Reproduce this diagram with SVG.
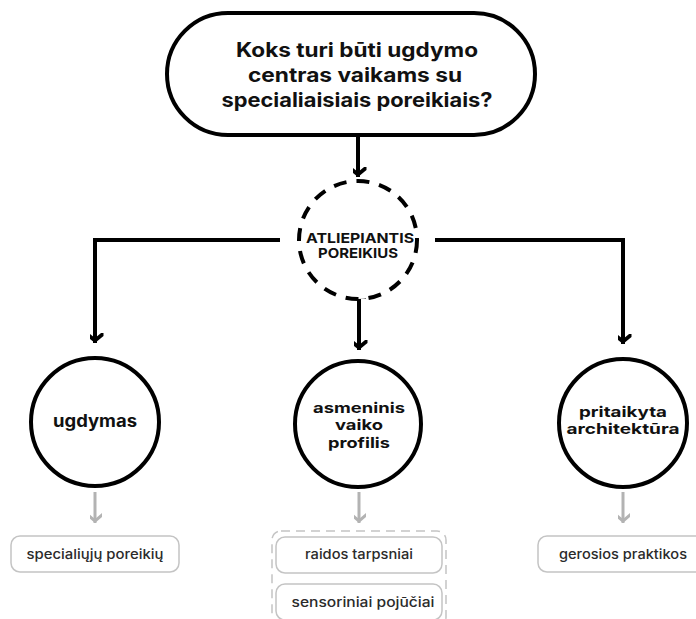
<svg xmlns="http://www.w3.org/2000/svg" width="696" height="619" viewBox="0 0 696 619">
<defs>
<style>
.blk{fill:none;stroke:#000;stroke-width:4;stroke-linejoin:miter;stroke-linecap:butt}
.gry{fill:none;stroke:#b3b3b3;stroke-width:3}
.node{fill:#fff;stroke:#000;stroke-width:4}
.dash{fill:#fff;stroke:#000;stroke-width:4;stroke-dasharray:13 10}
.box{fill:#fff;stroke:#c4c4c4;stroke-width:1.5}
.frame{fill:none;stroke:#c4c4c4;stroke-width:1.5;stroke-dasharray:9 6}
.t{font-family:Inter,"Noto Sans","Liberation Sans",sans-serif;text-anchor:middle;fill:#111;font-weight:700}
.s{font-family:Inter,"Noto Sans","Liberation Sans",sans-serif;text-anchor:middle;fill:#2b2b2b;font-weight:500;font-size:13.5px}
</style>
<marker id="ah" markerUnits="userSpaceOnUse" markerWidth="20" markerHeight="20" viewBox="-10 -15 20 20" refX="0" refY="0" orient="auto">
<polygon points="-12,-8.5 -5,0 -12,8.5 -7,8.5 0,0 -7,-8.5" fill="#000"/>
</marker>
<marker id="ahg" markerUnits="userSpaceOnUse" markerWidth="20" markerHeight="20" viewBox="-10 -15 20 20" refX="0" refY="0" orient="auto">
<polygon points="-10,-7 -4,0 -10,7 -6,7 0,0 -6,-7" fill="#b3b3b3"/>
</marker>
</defs>
<rect width="696" height="619" fill="#fff"/>
<g id="connectors">
<path class="blk" d="M358 135 V177" marker-end="url(#ah)"/>
<path class="blk" d="M280 240 H95 V343" marker-end="url(#ah)"/>
<path class="blk" d="M435 240 H623 V344" marker-end="url(#ah)"/>
<path class="blk" d="M352 297 H366 M359 297 V350" marker-end="url(#ah)"/>
<path class="gry" d="M95 492 V523" marker-end="url(#ahg)"/>
<path class="gry" d="M359 492 V523" marker-end="url(#ahg)"/>
<path class="gry" d="M623 492 V523" marker-end="url(#ahg)"/>
</g>
<g id="question">
<rect class="node" x="167" y="13" width="368" height="122" rx="61"/>
<text class="t" font-size="20" x="357" y="57" textLength="242" lengthAdjust="spacingAndGlyphs">Koks turi būti ugdymo</text>
<text class="t" font-size="20" x="355" y="82" textLength="214" lengthAdjust="spacingAndGlyphs">centras vaikams su</text>
<text class="t" font-size="20" x="357" y="107" textLength="271" lengthAdjust="spacingAndGlyphs">specialiaisiais poreikiais?</text>
</g>
<g id="atliepiantis">
<circle class="dash" cx="358" cy="240" r="59"/>
<text class="t" font-size="13.5" x="360" y="243" textLength="108" lengthAdjust="spacingAndGlyphs">ATLIEPIANTIS</text>
<text class="t" font-size="13.5" x="358" y="258" textLength="80" lengthAdjust="spacingAndGlyphs">POREIKIUS</text>
</g>
<g id="ugdymas">
<circle class="node" cx="95" cy="422" r="64"/>
<text class="t" font-size="17" x="95" y="427" textLength="84" lengthAdjust="spacingAndGlyphs">ugdymas</text>
</g>
<g id="profilis">
<circle class="node" cx="358" cy="424" r="63"/>
<text class="t" font-size="14.5" x="359" y="412.5" textLength="92" lengthAdjust="spacingAndGlyphs">asmeninis</text>
<text class="t" font-size="14.5" x="359" y="430" textLength="48" lengthAdjust="spacingAndGlyphs">vaiko</text>
<text class="t" font-size="14.5" x="359" y="447.5" textLength="62" lengthAdjust="spacingAndGlyphs">profilis</text>
</g>
<g id="architektura">
<circle class="node" cx="623" cy="423" r="64"/>
<text class="t" font-size="14.5" x="623" y="416.5" textLength="88" lengthAdjust="spacingAndGlyphs">pritaikyta</text>
<text class="t" font-size="14.5" x="623" y="434" textLength="113" lengthAdjust="spacingAndGlyphs">architektūra</text>
</g>
<g id="specialiuju">
<rect class="box" x="11" y="536" width="168" height="36" rx="9"/>
<text class="s" x="95" y="559" textLength="137" lengthAdjust="spacingAndGlyphs">specialiųjų poreikių</text>
</g>
<g id="profilis-group">
<rect class="frame" x="272" y="531" width="174" height="95" rx="9"/>
<g id="raidos">
<rect class="box" x="276" y="537" width="166" height="36" rx="9"/>
<text class="s" x="359" y="559" textLength="108" lengthAdjust="spacingAndGlyphs">raidos tarpsniai</text>
</g>
<g id="sensoriniai">
<rect class="box" x="276" y="584" width="166" height="36" rx="9"/>
<text class="s" x="363" y="607" textLength="143" lengthAdjust="spacingAndGlyphs">sensoriniai pojūčiai</text>
</g>
</g>
<g id="gerosios">
<rect class="box" x="538" y="536" width="170" height="36" rx="9"/>
<text class="s" x="623" y="559" textLength="128" lengthAdjust="spacingAndGlyphs">gerosios praktikos</text>
</g>
</svg>
